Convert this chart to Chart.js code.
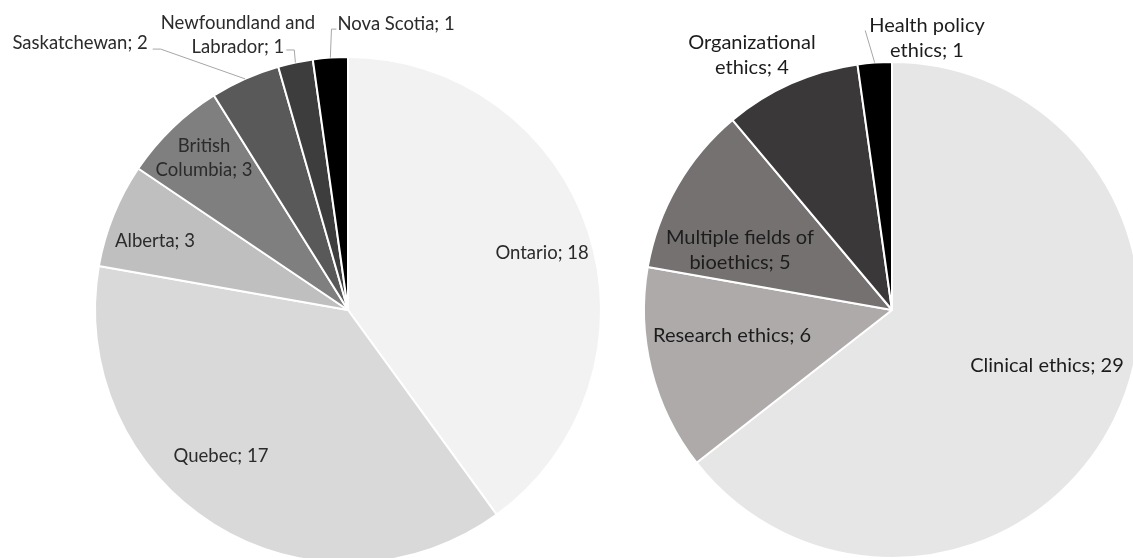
<!DOCTYPE html>
<html>
<head>
<meta charset="utf-8">
<script src="https://cdn.jsdelivr.net/npm/chart.js@4"></script>
<style>
  html, body { margin: 0; padding: 0; background: #fff; overflow: hidden; }
  #wrap { position: relative; width: 1160px; height: 580px; }
  canvas { position: absolute; left: 0; top: 0; }
</style>
</head>
<body>
<div id="wrap">
  <canvas id="provinces" width="1160" height="580"></canvas>
  <canvas id="fields" width="1160" height="580"></canvas>
</div>
<script>
// Left pie - provinces
const provinceNames = ['Ontario', 'Quebec', 'Alberta', 'British Columbia', 'Saskatchewan', 'Newfoundland and Labrador', 'Nova Scotia'];
const provinceCounts = [18, 17, 3, 3, 2, 1, 1];
const provinceColors = ['#f2f2f2', '#d9d9d9', '#bfbfbf', '#7f7f7f', '#595959', '#3d3d3d', '#000000'];

// Right pie - fields of bioethics
const fieldNames = ['Clinical ethics', 'Research ethics', 'Multiple fields of bioethics', 'Organizational ethics', 'Health policy ethics'];
const fieldCounts = [29, 6, 5, 4, 1];
const fieldColors = ['#e7e6e6', '#aeaaaa', '#767171', '#3a3838', '#000000'];

// label placement, in units of the pie radius from the pie centre
// split = words on the first line, leader = line back to the slice
const provincePlaces = [
  { dx: 0.767, dy: -0.225 },
  { dx: -0.502, dy: 0.577 },
  { dx: -0.763, dy: -0.273 },
  { dx: -0.569, dy: -0.601, split: 1 },
  { dx: -1.059, dy: -1.055, leader: { side: 'right', line: 0, gap: 5, drop: 6, tail: 8 } },
  { dx: -0.435, dy: -1.087, split: 2, leader: { side: 'right', line: 1, gap: 2, drop: 3, tail: 8 } },
  { dx: 0.19, dy: -1.130, leader: { side: 'left', line: 0, gap: 1, drop: 5, tail: 5 } }
];
const fieldPlaces = [
  { dx: 0.625, dy: 0.222 },
  { dx: -0.645, dy: 0.101 },
  { dx: -0.613, dy: -0.240, split: 3 },
  { dx: -0.565, dy: -1.028, split: 1 },
  { dx: 0.141, dy: -1.097, split: 2, leader: { side: 'left', line: 0, gap: 4, drop: 5, tail: 0 } }
];

// draws "name; value" labels and the grey leader lines
const sliceLabels = {
  id: 'sliceLabels',
  afterDatasetsDraw(chart, args, opts) {
    const ctx = chart.ctx;
    const meta = chart.getDatasetMeta(0);
    const values = chart.data.datasets[0].data;
    ctx.save();
    ctx.font = opts.size + 'px Lato';
    ctx.textAlign = 'center';
    ctx.textBaseline = 'middle';
    meta.data.forEach((arc, i) => {
      const p = arc.getProps(['x', 'y', 'outerRadius', 'startAngle', 'endAngle'], true);
      const place = opts.places[i];
      const text = chart.data.labels[i] + '; ' + values[i];
      const words = text.split(' ');
      const lines = place.split ? [words.slice(0, place.split).join(' '), words.slice(place.split).join(' ')] : [text];
      const cx = p.x + place.dx * p.outerRadius;
      const cy = p.y + place.dy * p.outerRadius;
      const top = cy - (lines.length - 1) * opts.lineHeight / 2;

      if (place.leader) {
        const l = place.leader;
        const mid = (p.startAngle + p.endAngle) / 2;
        const ax = p.x + Math.cos(mid) * p.outerRadius;
        const ay = p.y + Math.sin(mid) * p.outerRadius;
        const w = ctx.measureText(lines[l.line]).width;
        const dir = l.side === 'right' ? 1 : -1;
        const ex = cx + dir * (w / 2 + l.gap);
        const ey = top + l.line * opts.lineHeight + l.drop;
        ctx.beginPath();
        ctx.moveTo(ax, ay);
        ctx.lineTo(ex + dir * l.tail, ey);
        ctx.lineTo(ex, ey);
        ctx.strokeStyle = '#a6a6a6';
        ctx.lineWidth = 1;
        ctx.stroke();
      }

      ctx.fillStyle = opts.color;
      lines.forEach((ln, k) => ctx.fillText(ln, cx, top + k * opts.lineHeight));
    });
    ctx.restore();
  }
};

function pieChart(id, names, counts, colors, pad, labelOpts) {
  return new Chart(document.getElementById(id), {
    type: 'pie',
    data: {
      labels: names,
      datasets: [{
        data: counts,
        backgroundColor: colors,
        borderColor: '#ffffff',
        borderWidth: 2,
        hoverOffset: 0
      }]
    },
    options: {
      responsive: false,
      animation: false,
      events: [],
      layout: { padding: pad },
      plugins: {
        legend: { display: false },
        tooltip: { enabled: false },
        sliceLabels: labelOpts
      }
    },
    plugins: [sliceLabels]
  });
}

pieChart('provinces', provinceNames, provinceCounts, provinceColors,
  { left: 94, top: 56, right: 558, bottom: 16 },
  { places: provincePlaces, size: 18.5, lineHeight: 24, color: '#2b2b2b' });

pieChart('fields', fieldNames, fieldCounts, fieldColors,
  { left: 643, top: 61, right: 19, bottom: 21 },
  { places: fieldPlaces, size: 20, lineHeight: 25, color: '#1c1c1c' });
</script>
</body>
</html>
